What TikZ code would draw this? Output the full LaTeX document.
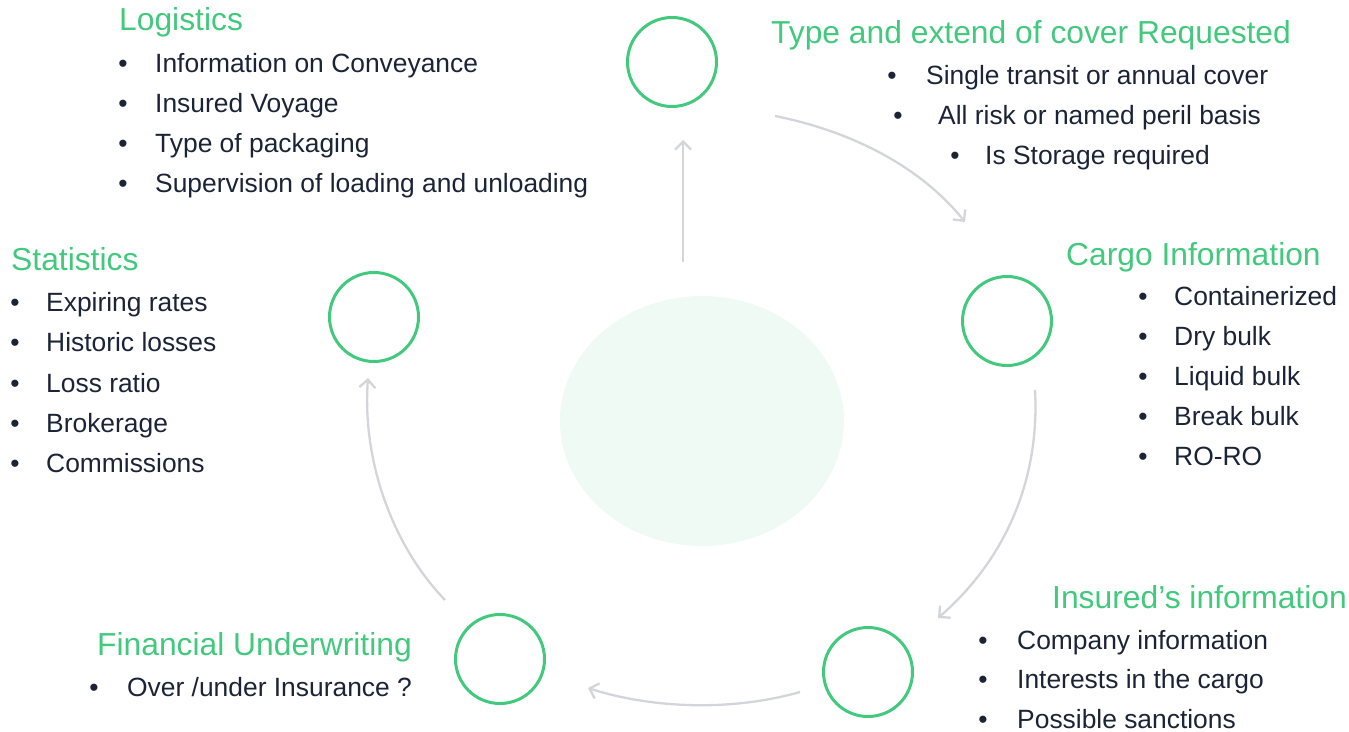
\documentclass[tikz,border=0pt]{standalone}
\usepackage{fontspec}
\setmainfont{Liberation Sans}
\usetikzlibrary{arrows.meta,shapes.geometric}
\definecolor{mint}{RGB}{66,201,126}
\definecolor{haze}{RGB}{239,250,244}
\definecolor{slate}{RGB}{27,36,55}
\definecolor{cloud}{RGB}{211,213,218}

\tikzset{
  stage/.style={circle,draw=mint,line width=3pt,minimum size=89pt,inner sep=0pt},
  hub/.style={ellipse,fill=haze,minimum width=284pt,minimum height=250pt,inner sep=0pt},
  head/.style={anchor=base west,inner sep=0pt,text=mint,font=\fontsize{31.8}{36}\selectfont},
  item/.style={anchor=base west,inner sep=0pt,text=slate,font=\fontsize{26.4}{32}\selectfont},
  dot/.style={anchor=base,inner sep=0pt,text=slate,font=\fontsize{26.4}{32}\selectfont},
  flow/.style={draw=cloud,line width=2.3pt,-{Straight Barb[length=8pt,width=16pt]}},
}

\begin{document}
\begin{tikzpicture}[x=1pt,y=-1pt]
  \useasboundingbox (0,0) rectangle (1349,731);

  % centre and the five stages
  \node[hub] (hub) at (702,421) {};
  \node[stage] (logi) at (672,62) {};
  \node[stage] (cargo) at (1007,321) {};
  \node[stage] (insd) at (868,672) {};
  \node[stage] (fin) at (500,659) {};
  \node[stage] (stat) at (374,317) {};

  % arrows round the cycle
  \coordinate (up-s) at (683,262);
  \coordinate (up-e) at (683,140);
  \coordinate (tr-s) at (775,116);
  \coordinate (tr-e) at (965,222);
  \coordinate (rb-s) at (1035,390);
  \coordinate (rb-e) at (938,618);
  \coordinate (bb-s) at (800,692);
  \coordinate (bb-e) at (588,688);
  \coordinate (bl-s) at (445,600);
  \coordinate (bl-e) at (368,378);
  \draw[flow] (up-s) -- (up-e);
  \draw[flow] (tr-s) .. controls (860,133) and (925,172) .. (tr-e);
  \draw[flow] (rb-s) .. controls (1040,480) and (1005,560) .. (rb-e);
  \draw[flow] (bb-s) .. controls (730,712) and (650,708) .. (bb-e);
  \draw[flow] (bl-s) .. controls (392,545) and (362,460) .. (bl-e);

  % Logistics
  \node[head] (logi-h) at (119,30) {Logistics};
  \foreach \t [count=\i, evaluate=\i as \y using {32+40*\i}] in {
    Information on Conveyance,
    Insured Voyage,
    Type of packaging,
    Supervision of loading and unloading}
  {
    \node[dot] (logi-b\i) at (123,\y) {•};
    \node[item] (logi-\i) at (155,\y) {\t};
  }

  % cover requested
  \node[head] (cov-h) at (771,43) {Type and extend of cover Requested};
  \foreach \t/\b/\x/\y [count=\i] in {
    Single transit or annual cover/892/926/84,
    All risk or named peril basis/898/938/124,
    Is Storage required/955/985/164}
  {
    \node[dot] (cov-b\i) at (\b,\y) {•};
    \node[item] (cov-\i) at (\x,\y) {\t};
  }

  % Cargo
  \node[head] (cargo-h) at (1066,265) {Cargo Information};
  \foreach \t [count=\i, evaluate=\i as \y using {265+40*\i}] in {
    Containerized, Dry bulk, Liquid bulk, Break bulk, RO-RO}
  {
    \node[dot] (cargo-b\i) at (1143,\y) {•};
    \node[item] (cargo-\i) at (1174,\y) {\t};
  }

  % Insured
  \node[head] (insd-h) at (1052,608) {Insured’s information};
  \foreach \t [count=\i, evaluate=\i as \y using {609.5+39.5*\i}] in {
    Company information, Interests in the cargo, Possible sanctions}
  {
    \node[dot] (insd-b\i) at (983,\y) {•};
    \node[item] (insd-\i) at (1017,\y) {\t};
  }

  % Financial
  \node[head] (fin-h) at (97,655) {Financial Underwriting};
  \node[dot] (fin-b1) at (94,696) {•};
  \node[item] (fin-1) at (127,696) {Over /under Insurance ?};

  % Statistics
  \node[head] (stat-h) at (11,270) {Statistics};
  \foreach \t [count=\i, evaluate=\i as \y using {271.5+40.2*\i}] in {
    Expiring rates, Historic losses, Loss ratio, Brokerage, Commissions}
  {
    \node[dot] (stat-b\i) at (15,\y) {•};
    \node[item] (stat-\i) at (46,\y) {\t};
  }
\end{tikzpicture}
\end{document}
